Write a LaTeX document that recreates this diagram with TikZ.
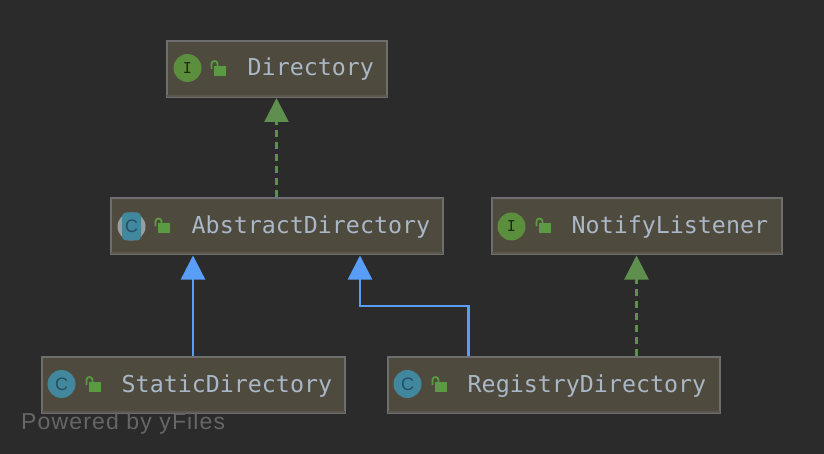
\documentclass[tikz,border=0pt]{standalone}
\usepackage{fontspec}
\setmainfont{Liberation Sans}
\setmonofont{DejaVu Sans Mono}
\newfontfamily\poweredfont[LetterSpace=5]{Liberation Sans}
\usetikzlibrary{arrows.meta}
\definecolor{bgdark}{HTML}{2B2B2B}
\definecolor{boxfill}{HTML}{4F4A3E}
\definecolor{boxline}{HTML}{6E6E6E}
\definecolor{boxband}{HTML}{5C5850}
\definecolor{nametext}{HTML}{A9B7C6}
\definecolor{implgreen}{HTML}{5F8F4E}
\definecolor{extblue}{HTML}{589DF6}
\definecolor{iconI}{HTML}{5B8F3D}
\definecolor{iconC}{HTML}{41879E}
\definecolor{iconCdark}{HTML}{274F63}
\definecolor{icongray}{HTML}{9A9EA1}
\definecolor{lockgreen}{HTML}{5A9A42}
\definecolor{poweredgray}{HTML}{666666}
\tikzset{
  classbox/.style={draw=boxline,fill=boxfill,line width=2pt,minimum height=56pt,inner sep=0pt},
  classname/.style={anchor=base west,inner sep=0pt,text=nametext,font=\ttfamily\fontsize{23.3}{26}\selectfont},
  iconi/.style={circle,fill=iconI,minimum size=28pt,inner sep=0pt,text=black!70!iconI,font=\ttfamily\fontsize{15}{17}\selectfont},
  iconc/.style={circle,fill=iconC,minimum size=28pt,inner sep=0pt,text=iconCdark,font=\fontsize{18}{20}\selectfont},
  implarrow/.style={draw=implgreen,line width=2.4pt,dashed,dash pattern=on 7pt off 5pt,-{Triangle[width=24pt,length=24pt,fill=implgreen]}},
  extarrow/.style={draw=extblue,line width=2.4pt,-{Triangle[width=24pt,length=24pt,fill=extblue]}},
  openlock/.pic={
    \fill [lockgreen] (3,-3) rectangle (15,7);
    \draw [lockgreen,line width=1.8pt] (1,0)--(1,-5) arc (180:360:3)--(7,-3);
  }
}
\begin{document}
\begin{tikzpicture}[x=1pt,y=-1pt]
  \fill [bgdark] (0,0) rectangle (824,454);
  \useasboundingbox (0,0) rectangle (824,454);
  % class boxes
  \node [classbox,minimum width=220pt] (Directory) at (276.5,69) {};
  \node [classbox,minimum width=332pt] (AbstractDirectory) at (276.5,226.5) {};
  \node [classbox,minimum width=290pt] (NotifyListener) at (636.5,226.5) {};
  \node [classbox,minimum width=303pt] (StaticDirectory) at (193,385) {};
  \node [classbox,minimum width=332pt] (RegistryDirectory) at (553.5,385) {};
  \foreach \n in {Directory,AbstractDirectory,NotifyListener,StaticDirectory,RegistryDirectory}{
    \draw [boxband,line width=2pt] ([shift={(1,-2)}]\n.south west)--([shift={(-1,-2)}]\n.south east);
    \pic at ([xshift=45pt]\n.west) {openlock};
  }
  % icons
  \node [iconi] (DirectoryIcon) at ([xshift=22pt,yshift=1pt]Directory.west) {I};
  \fill [icongray] ([xshift=22pt]AbstractDirectory.west) circle [radius=14pt];
  \node [fill=iconC,rounded corners=4pt,minimum width=19pt,minimum height=28pt,inner sep=0pt,text=iconCdark,font=\fontsize{18}{20}\selectfont] (AbstractIcon) at ([xshift=22pt]AbstractDirectory.west) {C};
  \node [iconi] (NotifyIcon) at ([xshift=21pt]NotifyListener.west) {I};
  \node [iconc] (StaticIcon) at ([xshift=21pt,yshift=1pt]StaticDirectory.west) {C};
  \node [iconc] (RegistryIcon) at ([xshift=21pt,yshift=1pt]RegistryDirectory.west) {C};
  % names
  \node [classname] (DirectoryName) at ([shift={(82,7)}]Directory.west) {Directory};
  \node [classname] (AbstractName) at ([shift={(82,7)}]AbstractDirectory.west) {AbstractDirectory};
  \node [classname] (NotifyName) at ([shift={(81,7)}]NotifyListener.west) {NotifyListener};
  \node [classname] (StaticName) at ([shift={(81,7)}]StaticDirectory.west) {StaticDirectory};
  \node [classname] (RegistryName) at ([shift={(81,7)}]RegistryDirectory.west) {RegistryDirectory};
  % arrows
  \coordinate (AbstractTip) at ([xshift=83.5pt]AbstractDirectory.south);
  \coordinate (RegistryFoot) at ([xshift=82pt]RegistryDirectory.north west);
  \draw [implarrow] (AbstractDirectory.north)--(Directory.south);
  \draw [implarrow] (RegistryDirectory.north -| NotifyListener.south)--(NotifyListener.south);
  \draw [extarrow] (StaticDirectory.north)--(StaticDirectory.north |- AbstractDirectory.south);
  \draw [extarrow] (RegistryFoot)--(RegistryFoot |- 0,306)--(AbstractTip |- 0,306)--(AbstractTip);
  \node [anchor=base west,inner sep=0pt,text=poweredgray,font=\poweredfont\fontsize{23}{26}\selectfont] (PoweredBy) at (21,429) {Powered by yFiles};
\end{tikzpicture}
\end{document}
